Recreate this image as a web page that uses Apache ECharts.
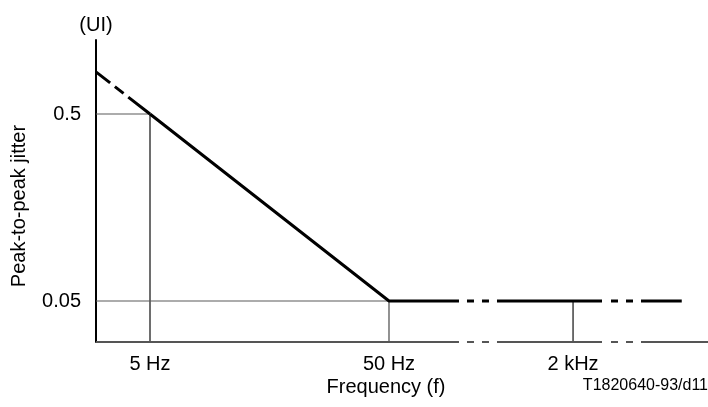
<!DOCTYPE html>
<html><head><meta charset="utf-8">
<script src="https://cdn.jsdelivr.net/npm/echarts@6/dist/echarts.min.js"></script>
<style>html,body{margin:0;padding:0;background:#fff}#c{width:708px;height:407px}</style>
</head><body><div id="c"></div>
<script>
// ---- data ----
const tickFreqs = [5, 50, 2000];
const tickFreqLabels = ['5 Hz', '50 Hz', '2 kHz'];
const tickJitter = [0.5, 0.05];
const tickJitterLabels = ['0.5', '0.05'];
// mask (peak-to-peak jitter tolerance) corner points
const extFreq = [2.97, 5];        // dashed extension towards low frequency
const extJitter = [0.84, 0.5];
const maskFreq = [5, 50, 5700];
const maskJitter = [0.5, 0.05, 0.05];

// ---- scale helpers (log-log with an axis break above ~100 Hz) ----
const BREAK_AT = 100, BREAK_SHIFT = 0.832;
const toX = f => Math.log10(f) - (f > BREAK_AT ? BREAK_SHIFT : 0);
const toY = v => Math.log10(v);
const X_MIN = 0.47303, X_MAX = 3.0337;
const Y_MIN = -1.5203, Y_MAX = 0.0947;
// break zones (axis units)
const BREAKS = [[1.9918, 2.1508, [8, 7, 8, 7, 8]], [2.5902, 2.7534, [9, 7, 8, 7, 8]]];

const FONT = 'Liberation Sans, Arial, Helvetica, sans-serif';
const seg = (pts, color, width, type, extra) => Object.assign({
  type: 'line', data: pts, symbol: 'none', silent: true, animation: false,
  lineStyle: { color, width, type: type || 'solid' }
}, extra || {});

const series = [];
// reference lines
series.push(seg([[X_MIN, toY(0.5)], [toX(5), toY(0.5)]], '#5a5a5a', 1.2));
series.push(seg([[toX(5), Y_MIN], [toX(5), toY(0.5)]], '#6e6e6e', 2));
series.push(seg([[X_MIN, toY(0.05)], [toX(50), toY(0.05)]], '#5a5a5a', 1.2));
series.push(seg([[toX(50), Y_MIN], [toX(50), toY(0.05)]], '#6e6e6e', 1.5));
series.push(seg([[toX(2000), Y_MIN], [toX(2000), toY(0.05)]], '#111', 1.2));
// mask
series.push(seg(extFreq.map((f, i) => [toX(f), toY(extJitter[i])]), '#000', 3, [18, 6, 11, 6, 80]));
series.push(seg(maskFreq.map((f, i) => [toX(f), toY(maskJitter[i])]), '#000', 3));
// x axis line (gray)
series.push(seg([[X_MIN, Y_MIN], [X_MAX, Y_MIN]], '#555', 2, 'solid', { clip: false }));
// break overlays (white gaps)
BREAKS.forEach(b => {
  [toY(0.05), Y_MIN].forEach(y => {
    series.push(seg([[b[0], y], [b[1], y]], '#fff', 7, b[2], { clip: false, z: 5 }));
  });
});

const nearestLabel = (v, vals, labels) => {
  let best = 0;
  vals.forEach((x, i) => { if (Math.abs(x - v) < Math.abs(vals[best] - v)) best = i; });
  return labels[best];
};

const chart = echarts.init(document.getElementById('c'), null, { renderer: 'canvas' });
chart.setOption({
  backgroundColor: '#fff',
  animation: false,
  grid: { left: 96, right: 0, top: 40, bottom: 65 },
  xAxis: {
    type: 'value', min: X_MIN, max: X_MAX,
    axisLine: { show: false }, axisTick: { show: false }, splitLine: { show: false },
    axisLabel: {
      customValues: tickFreqs.map(toX), margin: 12,
      color: '#000', fontSize: 20, fontFamily: FONT,
      formatter: v => nearestLabel(v, tickFreqs.map(toX), tickFreqLabels)
    }
  },
  yAxis: {
    type: 'value', min: Y_MIN, max: Y_MAX,
    name: '(UI)', nameLocation: 'end', nameGap: 5,
    nameTextStyle: { color: '#000', fontSize: 20, fontFamily: FONT, align: 'center' },
    axisLine: { show: true, lineStyle: { color: '#000', width: 2 } },
    axisTick: { show: false }, splitLine: { show: false },
    axisLabel: {
      customValues: tickJitter.map(toY), margin: 15,
      color: '#000', fontSize: 20, fontFamily: FONT,
      formatter: v => nearestLabel(v, tickJitter.map(toY), tickJitterLabels)
    }
  },
  graphic: [
    { type: 'text', x: 19, y: 206, rotation: Math.PI / 2,
      style: { text: 'Peak-to-peak jitter', fill: '#000', font: '20px ' + FONT, align: 'center', verticalAlign: 'middle' } },
    { type: 'text', x: 386, y: 387,
      style: { text: 'Frequency (f)', fill: '#000', font: '20px ' + FONT, align: 'center', verticalAlign: 'middle' } },
    { type: 'text', x: 708, y: 386,
      style: { text: 'T1820640-93/d11', fill: '#000', font: '16px ' + FONT, align: 'right', verticalAlign: 'middle' } }
  ],
  series
});
</script></body></html>
